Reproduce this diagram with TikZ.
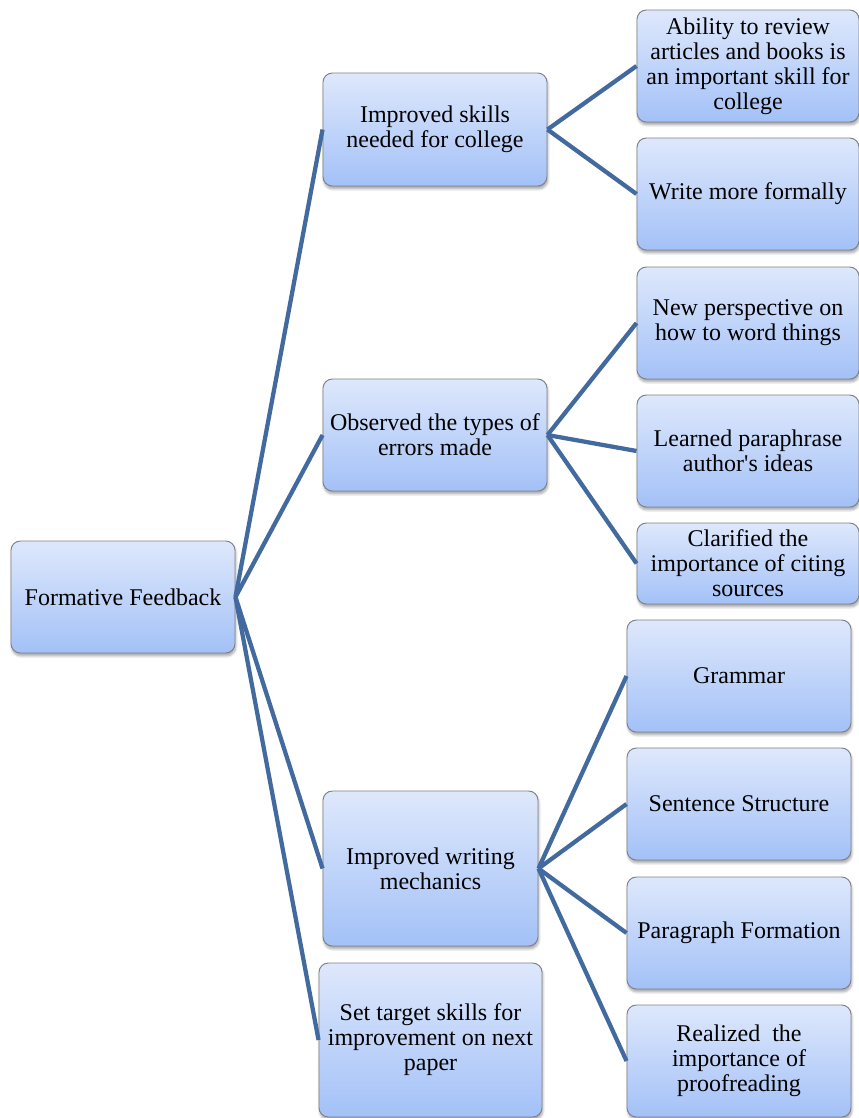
\documentclass[tikz,border=0pt]{standalone}
\usepackage{fontspec}
\setmainfont{Liberation Serif}
\usetikzlibrary{shadows.blur}
\definecolor{boxtop}{RGB}{222,232,252}
\definecolor{boxbot}{RGB}{163,193,247}
\definecolor{boxline}{RGB}{128,128,136}
\definecolor{linkc}{RGB}{66,106,158}
\begin{document}
\begin{tikzpicture}[x=0.75pt,y=-0.75pt,
  card/.style={draw=boxline, line width=0.7pt, rounded corners=7pt,
    top color=boxtop, bottom color=boxbot, align=center, inner sep=0pt,
    font=\fontsize{18}{18.8}\selectfont,
    blur shadow={shadow xshift=0.6pt, shadow yshift=-2.2pt, shadow blur steps=6, shadow opacity=35}},
  link/.style={draw=linkc, line width=3.2pt}]
\useasboundingbox (0,0) rectangle (859,1118);
% root and first level
\node[card, minimum width=168pt, minimum height=84pt] (root) at (123,597) {Formative Feedback};
\node[card, minimum width=168pt, minimum height=84.75pt] (A) at (435,129.5) {Improved skills\\needed for college};
\node[card, minimum width=168pt, minimum height=84pt] (B) at (435,435) {Observed the types of\\errors made};
\node[card, minimum width=161.25pt, minimum height=116.25pt] (C) at (430.5,868.5) {Improved writing\\mechanics};
\node[card, minimum width=167.25pt, minimum height=115.5pt] (D) at (430.5,1040) {Set target skills for\\improvement on next\\paper};
% leaves
\node[card, minimum width=166.5pt, minimum height=84pt] (a1) at (748,66) {Ability to review\\articles and books is\\an important skill for\\college};
\node[card, minimum width=166.5pt, minimum height=84pt] (a2) at (748,194) {Write more formally};
\node[card, minimum width=166.5pt, minimum height=84pt] (b1) at (748,323) {New perspective on\\how to word things};
\node[card, minimum width=166.5pt, minimum height=84pt] (b2) at (748,451) {Learned paraphrase\\author\textquotesingle s ideas};
\node[card, minimum width=166.5pt, minimum height=60.75pt] (b3) at (748,563.5) {Clarified the\\importance of citing\\sources};
\node[card, minimum width=168pt, minimum height=84pt] (c1) at (739,676) {Grammar};
\node[card, minimum width=168pt, minimum height=84pt] (c2) at (739,804) {Sentence Structure};
\node[card, minimum width=168pt, minimum height=84pt] (c3) at (739,933) {Paragraph Formation};
\node[card, minimum width=168pt, minimum height=84pt] (c4) at (739,1061) {Realized\ \ the\\importance of\\proofreading};
% connectors
\foreach \t in {A,B,C,D} \draw[link] (root.east) -- (\t.west);
\foreach \t in {a1,a2} \draw[link] (A.east) -- (\t.west);
\foreach \t in {b1,b2,b3} \draw[link] (B.east) -- (\t.west);
\foreach \t in {c1,c2,c3,c4} \draw[link] (C.east) -- (\t.west);
\end{tikzpicture}
\end{document}
